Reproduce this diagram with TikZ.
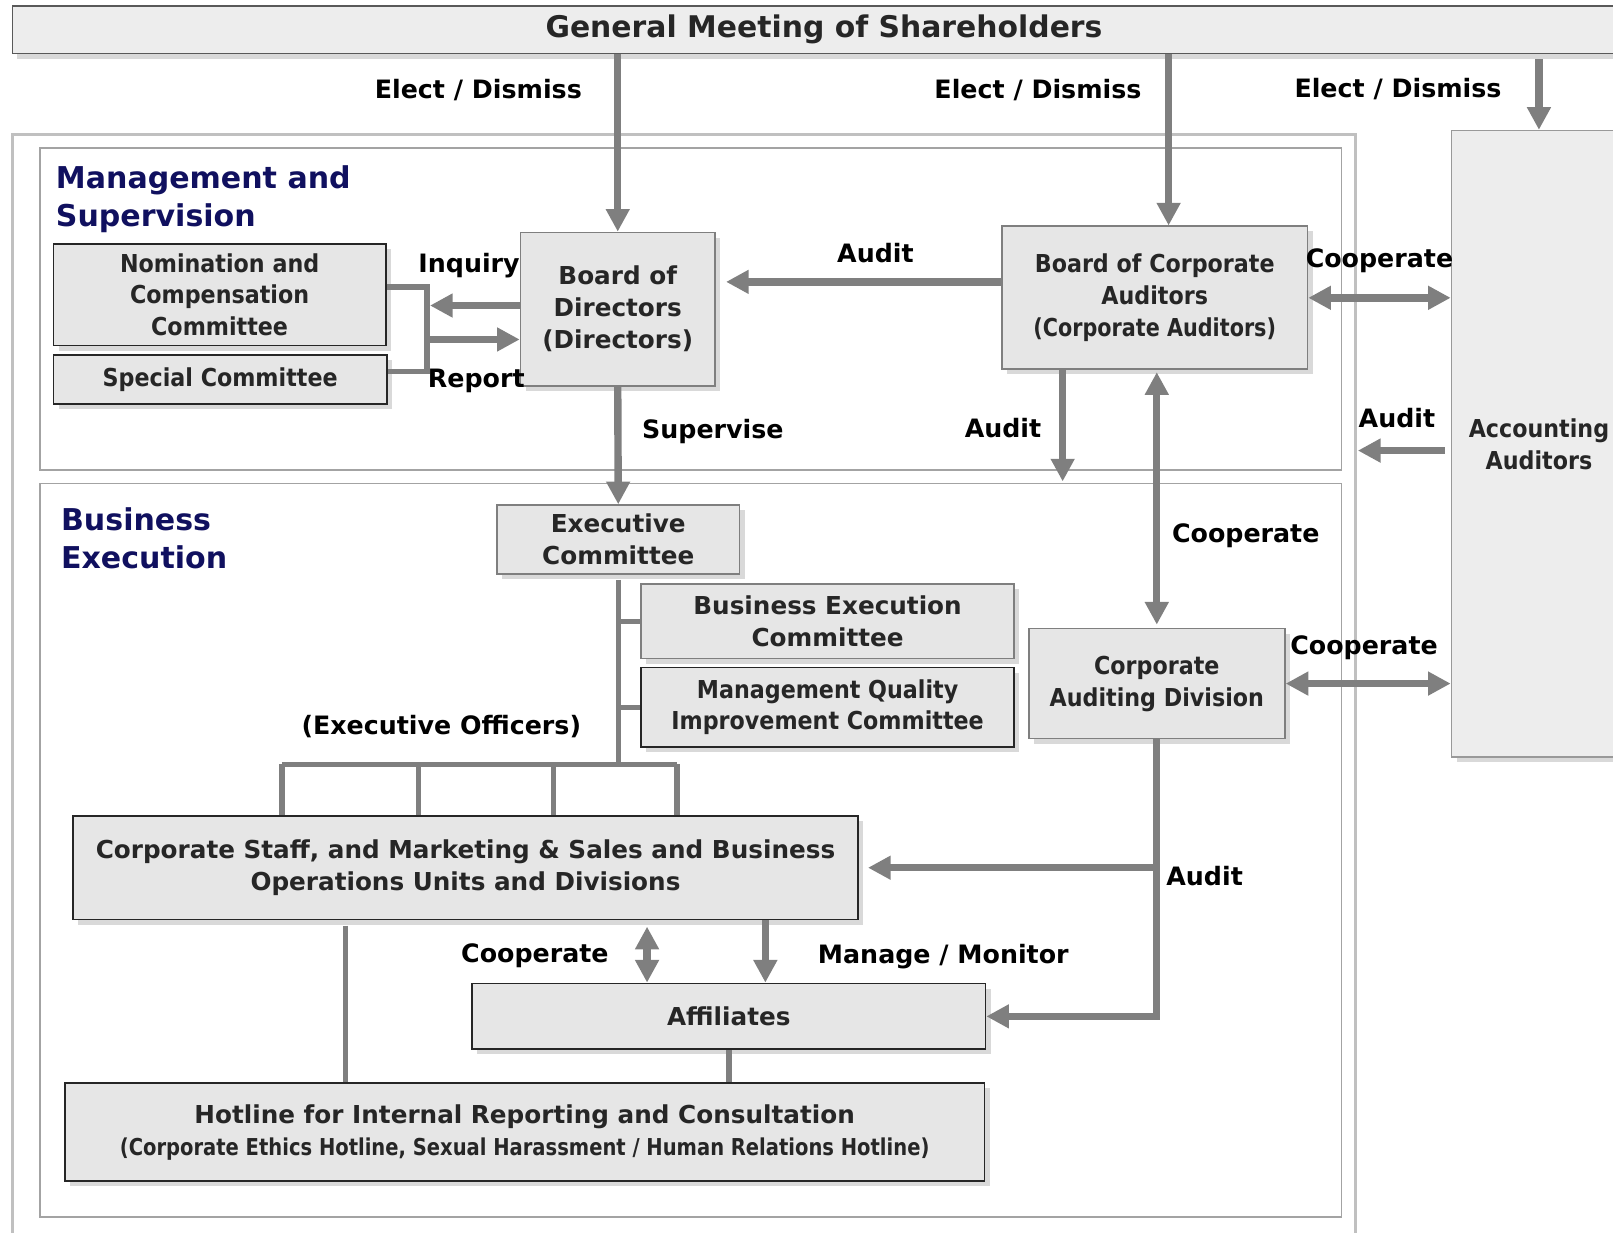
\documentclass[tikz,border=0pt]{standalone}
\usepackage{fontspec}
\setmainfont{DejaVu Sans}
\newfontfamily\narrowfont{DejaVu Sans Bold}[FakeStretch=0.9]
\newfontfamily\tightfont{DejaVu Sans Bold}[FakeStretch=0.84]
\usepackage{tikz}
\usetikzlibrary{arrows.meta,shadows}
\definecolor{arrgray}{HTML}{7F7F7F}
\definecolor{boxfill}{HTML}{E6E6E6}
\definecolor{boxtext}{HTML}{262626}
\definecolor{secblue}{HTML}{10105F}
\definecolor{framegray}{HTML}{C0C0C0}
\newcommand\boxsize{\fontsize{12}{15.5}\selectfont}
\newcommand\lblsize{\fontsize{12.3}{14}\selectfont}
\tikzstyle{arr}=[draw=arrgray,line width=3.6pt,-{Triangle[width=11pt,length=11pt]}]
\tikzstyle{dbl}=[draw=arrgray,line width=3.6pt,
  {Triangle[width=11pt,length=11pt]}-{Triangle[width=11pt,length=11pt]}]
\tikzstyle{link}=[draw=arrgray,line width=2.6pt]
\tikzstyle{box}=[draw=arrgray,line width=0.8pt,fill=boxfill,inner sep=0pt,
  align=center,text=boxtext,font=\boxsize\bfseries,
  drop shadow={opacity=0.3,shadow xshift=2.5pt,shadow yshift=-2.5pt}]
\tikzstyle{boxk}=[box,draw=black!85]
\tikzstyle{lbl}=[font=\lblsize\bfseries,inner sep=0pt]
\tikzstyle{sec}=[font=\fontsize{14.6}{18.5}\selectfont\bfseries,text=secblue,
  align=left,inner sep=0pt]

\begin{document}
\begin{tikzpicture}[x=0.5pt,y=-0.5pt]
\clip (0,0) rectangle (1568,1198);
\draw[framegray,line width=1.6pt] (12,131) rectangle (1318,1215);
\draw[framegray!85!black,line width=0.9pt] (39,144) rectangle (1304,457);
\draw[framegray!85!black,line width=0.9pt] (39,470) rectangle (1304,1183);

\node[box,draw=black!65,fill=black!7,minimum width=789pt,minimum height=23pt,
  font=\fontsize{14.5}{16}\selectfont\bfseries] (GM) at (801,29)
  {General Meeting of Shareholders};
\node[sec,anchor=north west] (MS) at (54,161) {Management and\\Supervision};
\node[sec,anchor=north west] (BE) at (59,493) {Business\\Execution};

\node[boxk,minimum width=161.5pt,minimum height=49.5pt,font=\boxsize\narrowfont] (NC)
  at (213.5,286.5) {Nomination and\\Compensation\\Committee};
\node[boxk,minimum width=162pt,minimum height=24pt,font=\boxsize\narrowfont] (SC)
  at (214,369) {Special Committee};
\node[box,minimum width=94.5pt,minimum height=74.5pt] (BoD)
  at (600.5,300.5) {Board of\\Directors\\(Directors)};
\node[box,minimum width=148.5pt,minimum height=69.5pt,font=\boxsize\narrowfont] (BCA)
  at (1122.5,289.5) {Board of Corporate\\Auditors\\{\tightfont(Corporate Auditors)}};
\node[box,draw=black!40,fill=black!7,minimum width=85pt,minimum height=304.5pt,
  font=\boxsize\narrowfont] (AA) at (1496,431.5) {Accounting\\Auditors};
\node[box,minimum width=118pt,minimum height=33.5pt] (EC)
  at (601,524.5) {Executive\\Committee};
\node[box,minimum width=181.5pt,minimum height=36pt] (BEC)
  at (804.5,604) {Business Execution\\Committee};
\node[boxk,minimum width=181.5pt,minimum height=38.5pt,font=\boxsize\narrowfont] (MQIC)
  at (804.5,687.5) {Management Quality\\Improvement Committee};
\node[box,minimum width=124.5pt,minimum height=53.5pt,font=\boxsize\narrowfont] (CAD)
  at (1124.5,664.5) {Corporate\\Auditing Division};
\node[boxk,minimum width=381.5pt,minimum height=50.5pt] (CS)
  at (452.5,843.5) {Corporate Staff, and Marketing \& Sales and Business\\
  Operations Units and Divisions};
\node[boxk,minimum width=249.5pt,minimum height=32pt] (AF)
  at (708.5,988) {Affiliates};
\node[boxk,minimum width=447pt,minimum height=47.5pt] (HL)
  at (510,1100.5) {Hotline for Internal Reporting and Consultation\\
  {\fontsize{11.3}{14}\tightfont(Corporate Ethics Hotline, Sexual Harassment / Human Relations Hotline)}};

\node[lbl] (ed1) at (465,88) {Elect / Dismiss};
\node[lbl] (ed2) at (1009,88) {Elect / Dismiss};
\node[lbl] (ed3) at (1359,87) {Elect / Dismiss};
\node[lbl] (inq) at (456,258) {Inquiry};
\node[lbl] (rep) at (463,370) {Report};
\node[lbl] (au1) at (851,246) {Audit};
\node[lbl] (co1) at (1341,253) {Cooperate};
\node[lbl] (au2) at (975,416) {Audit};
\node[lbl] (au3) at (1358,406) {Audit};
\node[lbl] (sup) at (693,419) {Supervise};
\node[lbl] (co2) at (1211,521) {Cooperate};
\node[lbl] (co3) at (1326,630) {Cooperate};
\node[lbl] (eo) at (429,706) {(Executive Officers)};
\node[lbl] (au4) at (1171,852) {Audit};
\node[lbl] (co4) at (520,929) {Cooperate};
\node[lbl] (mm) at (917,930) {Manage / Monitor};

\coordinate (bcaIn) at (1136,220);
\coordinate (brk) at (415,320);
\coordinate (inqY) at (418,297);
\coordinate (repY) at (418,330);
\coordinate (audY) at (705,274);
\coordinate (audB) at (1033,468);
\coordinate (audC) at (1320,438);
\coordinate (xo) at (600,743);
\coordinate (t1) at (274,743);
\coordinate (t2) at (407,743);
\coordinate (t3) at (538,743);
\coordinate (t4) at (658,743);
\coordinate (coopX) at (629,0);
\coordinate (mgX) at (744,0);
\coordinate (hlX) at (336,0);

\draw[arr] (BoD.north |- GM.south) -- (BoD.north);
\draw[arr] (GM.south -| bcaIn) -- (BCA.north -| bcaIn);
\draw[arr,shorten <=2.5pt] (AA.north |- GM.south) -- (AA.north);
\draw[link] ([yshift=3.75pt]NC.east) -| (brk) |- ([yshift=4pt]SC.east);
\draw[arr] (BoD.west |- inqY) -- (inqY);
\draw[arr] (repY) -- (BoD.west |- repY);
\draw[arr,shorten >=5pt] (BCA.west |- audY) -- (BoD.east |- audY);
\draw[dbl] (BCA.east) -- (AA.west |- BCA.east);
\draw[arr] (BCA.south -| audB) -- (audB);
\draw[dbl,shorten <=1pt,shorten >=1.5pt] (BCA.south -| CAD.north) -- (CAD.north);
\draw[arr,shorten <=3pt] (AA.west |- audC) -- (audC);
\draw[arr] (BoD.south) -- (EC.north);
\draw[link] ([yshift=-2.5pt]EC.south) -- (EC.south |- xo);
\draw[link] (EC.south |- BEC.west) -- (BEC.west);
\draw[link] (EC.south |- MQIC.west) -- (MQIC.west);
\draw[link] (t1) -- (t4);
\foreach \t in {t1,t2,t3,t4}
  \draw[link] (\t) -- (\t |- CS.north);
\draw[dbl] (CAD.east) -- (AA.west |- CAD.east);
\draw[arr] (CAD.south) |- (AF.east);
\draw[arr,shorten >=4.5pt] (CAD.south |- CS.east) -- (CS.east);
\draw[dbl,shorten <=3pt] (CS.south -| coopX) -- (AF.north -| coopX);
\draw[arr] (CS.south -| mgX) -- (AF.north -| mgX);
\draw[link,shorten <=2.5pt] (CS.south -| hlX) -- (HL.north -| hlX);
\draw[link] (AF.south) -- (AF.south |- HL.north);
\end{tikzpicture}
\end{document}
